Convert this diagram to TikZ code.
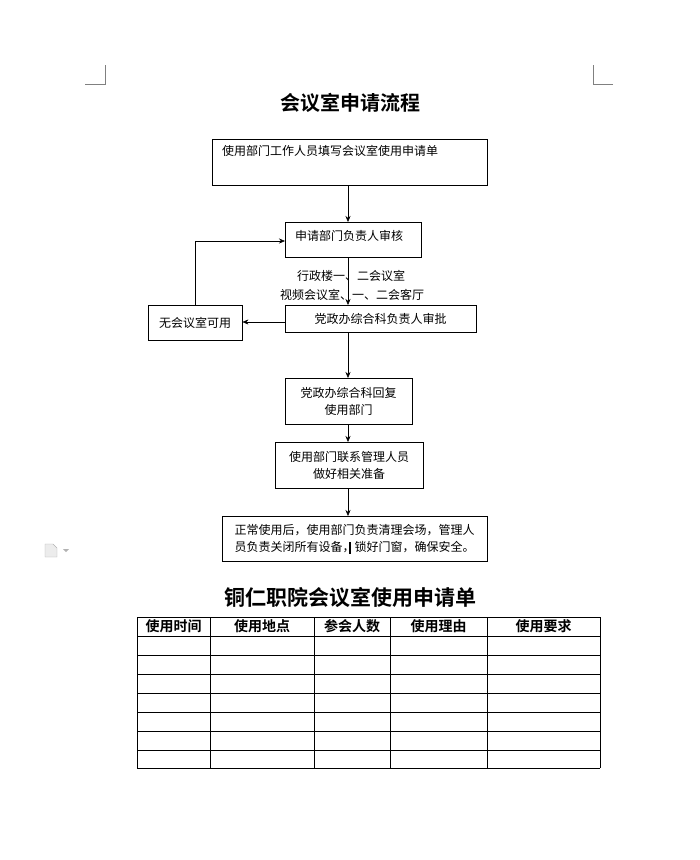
\documentclass[tikz,border=0pt]{standalone}
\usepackage{fontspec}
\setmainfont{Noto Sans CJK SC}
\newfontfamily\cjkbold{Noto Sans CJK SC Bold}
\usetikzlibrary{positioning,arrows.meta}
\tikzset{
  stepbox/.style={draw,thin,minimum height=#1,inner sep=2pt,font=\fontsize{12}{17}\selectfont},
  flow/.style={-{Stealth[length=6pt,width=5pt]},thin},
  cell/.style={font=\cjkbold\fontsize{14}{16}\selectfont}
}
\begin{document}
\begin{tikzpicture}[x=1pt,y=-1pt]
  \useasboundingbox (0,0) rectangle (700,860);
  % corner marks
  \draw[gray] (85,84) -- (105,84) -- (105,65);
  \draw[gray] (613,84) -- (593,84) -- (593,65);

  \node[font=\cjkbold\fontsize{20}{22}\selectfont] (title) at (350,103) {会议室申请流程};

  \node[stepbox=46pt,minimum width=275pt,anchor=north west] (fill) at (212,139) {};
  \node[anchor=north west,font=\fontsize{12}{14}\selectfont,inner sep=0pt] (filltxt) at (222,145) {使用部门工作人员填写会议室使用申请单};
  \node[stepbox=35pt,minimum width=136pt,anchor=north west] (dept) at (285,222) {};
  \node[anchor=west,font=\fontsize{12}{14}\selectfont,inner sep=0pt] (depttxt) at (295,236) {申请部门负责人审核};
  \node[stepbox=27pt,minimum width=191pt,anchor=north west] (office) at (285,305) {党政办综合科负责人审批};
  \node[stepbox=35pt,minimum width=94pt,anchor=north west] (none) at (148,305) {无会议室可用};
  \node[stepbox=46pt,minimum width=127pt,anchor=north west,align=center] (reply) at (285,378) {党政办综合科回复\\使用部门};
  \node[stepbox=46pt,minimum width=148pt,anchor=north west,align=center] (contact) at (275,442) {使用部门联系管理人员\\做好相关准备};
  \node[stepbox=45pt,minimum width=265pt,anchor=north west,align=left] (finish) at (222,516) {正常使用后，使用部门负责清理会场，管理人\\员负责关闭所有设备，锁好门窗，确保安全。};

  \node[font=\fontsize{12}{14}\selectfont] (rooma) at (351,276) {行政楼一、二会议室};
  \node[font=\fontsize{12}{14}\selectfont] (roomb) at (352,295) {视频会议室、一、二会客厅};

  \draw[flow] (fill.south -| 348,0) -- (dept.north -| 348,0);
  \draw[flow] (dept.south -| 348,0) -- (office.north -| 348,0);
  \draw[flow] (office.west |- 0,322) -- (none.east |- 0,322);
  \draw[flow] (none.north) -- (none.north |- 0,241) -- (dept.west |- 0,241);
  \draw[flow] (office.south -| 348,0) -- (reply.north -| 348,0);
  \draw[flow] (reply.south -| 348,0) -- (contact.north -| 348,0);
  \draw[flow] (contact.south -| 348,0) -- (finish.north -| 348,0);
  \draw[line width=1.2pt] (350,542) -- (350,554);

  % document icon
  \draw[gray!60,fill=gray!15] (45,544) -- (53,544) -- (57,548) -- (57,557) -- (45,557) -- cycle;
  \fill[gray!60] (63,549) -- (69,549) -- (66,552) -- cycle;

  \node[font=\cjkbold\fontsize{21}{24}\selectfont] (formtitle) at (350,597) {铜仁职院会议室使用申请单};

  % table
  \foreach \y in {617,636,655,674,693,712,731,750,768} {
    \draw (137,\y) -- (600,\y);
  }
  \foreach \x in {137,210,314,390,487,600} {
    \draw (\x,617) -- (\x,768);
  }
  \node[cell] (c1) at (173.5,626.5) {使用时间};
  \node[cell] (c2) at (262,626.5) {使用地点};
  \node[cell] (c3) at (352,626.5) {参会人数};
  \node[cell] (c4) at (438.5,626.5) {使用理由};
  \node[cell] (c5) at (543.5,626.5) {使用要求};
\end{tikzpicture}
\end{document}
